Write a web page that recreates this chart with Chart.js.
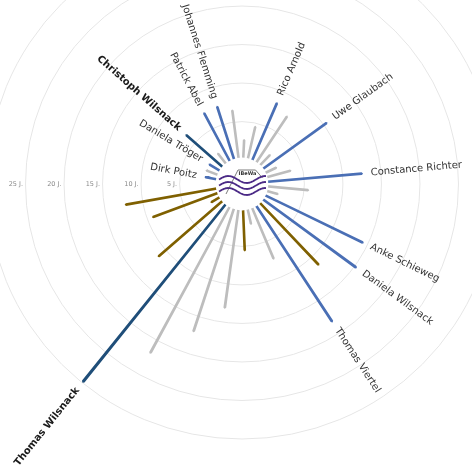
<!DOCTYPE html>
<html lang="de">
<head>
<meta charset="utf-8">
<title>IBeWa – Betriebszugehörigkeit</title>
<script src="https://cdn.jsdelivr.net/npm/chart.js@4.4.1/dist/chart.umd.min.js"></script>
<style>
  html, body { margin: 0; padding: 0; background: #fff; overflow: hidden; width: 472px; height: 476px; }
  /* Diagramm ist größer als das Fenster: Mitte liegt bei (242,184) */
  #wrap { position: absolute; left: -13px; top: -126px; width: 510px; height: 620px; }
</style>
</head>
<body>
<div id="wrap"><canvas id="chart"></canvas></div>
<script>
// Betriebszugehörigkeit in Jahren, im Uhrzeigersinn ab 12 Uhr
const names = [
  '', '', 'Rico Arnold', '', '', 'Uwe Glaubach', '', '', 'Constance Richter', '', '',
  'Anke Schieweg', 'Daniela Wilsnack', '', 'Thomas Viertel', '', '', '', '', '', '',
  'Thomas Wilsnack', '', '', '', '', '', 'Dirk Poitz', '', 'Daniela Tröger',
  'Christoph Wilsnack', '', 'Patrick Abel', 'Johannes Flemming', ''
];
const years = [
  2.6, 4.5, 8.3, 7.4, 2.1, 10.4, 1.8, 3.4, 12.5, 5.5, 1.7,
  14.3, 15.2, 11.3, 18.2, 7.4, 2.2, 5.5, 13.1, 17.0, 21.8,
  29.8, 11.2, 1.5, 9.2, 12.2, 0, 1.7, 1.8, 1.8,
  6.5, 1.9, 7.3, 7.4, 6.5
];
// B = Team, D = Geschäftsführung, O = Azubis/Extern, G = ehemalige
const groups = [
  'G', 'G', 'B', 'G', 'G', 'B', 'G', 'G', 'B', 'G', 'G',
  'B', 'B', 'O', 'B', 'G', 'G', 'O', 'G', 'G', 'G',
  'D', 'O', 'O', 'O', 'O', 'G', 'B', 'G', 'B',
  'D', 'G', 'B', 'B', 'G'
];
const tickValues = [0, 5, 10, 15, 20, 25, 30];
const tickSuffix = ' J.';
const boldNames = ['Thomas Wilsnack', 'Christoph Wilsnack'];

const COLORS = { B: '#4a6fb5', D: '#1f4e79', O: '#7f6000', G: '#bdbdbd' };
const SLOT = 360 / years.length;
const SPOKE = 0.15;

// jede Speiche = sehr schmaler Bogen, danach eine unsichtbare Lücke
const values = [], angles = [], colors = [], widths = [];
years.forEach((y, i) => {
  values.push(y, 0);
  angles.push(SPOKE, SLOT - SPOKE);
  colors.push(COLORS[groups[i]], 'rgba(0,0,0,0)');
  widths.push(2.5, 0);
});

function drawLogo(ctx, cx, cy) {
  // Haus-Umriss
  ctx.strokeStyle = '#6b6b6b';
  ctx.lineWidth = 0.9;
  ctx.beginPath();
  ctx.moveTo(cx - 16, cy + 10);
  ctx.lineTo(cx - 4, cy - 14);
  ctx.lineTo(cx + 13.5, cy - 14);
  ctx.lineTo(cx + 20.5, cy - 6);
  ctx.stroke();
  ctx.fillStyle = '#333';
  ctx.font = 'bold 5px "DejaVu Sans"';
  ctx.textAlign = 'center';
  ctx.textBaseline = 'middle';
  ctx.fillText('IBeWa', cx + 5.5, cy - 10.5);
  // Wellen
  ctx.strokeStyle = '#4b2a86';
  ctx.lineWidth = 1.8;
  for (let k = 0; k < 3; k++) {
    const y0 = cy - 4.5 + k * 6;
    ctx.beginPath();
    for (let x = 0; x <= 47; x++) {
      const y = y0 - 3.5 * Math.sin(2 * Math.PI * x / 37);
      if (x === 0) ctx.moveTo(cx - 23 + x, y);
      else ctx.lineTo(cx - 23 + x, y);
    }
    ctx.stroke();
  }
}

const spokeLabels = {
  id: 'spokeLabels',
  afterDatasetsDraw(chart) {
    const ctx = chart.ctx;
    const scale = chart.scales.r;
    const cx = scale.xCenter, cy = scale.yCenter;
    ctx.save();

    // Mitte freistellen + Logo
    ctx.fillStyle = '#fff';
    ctx.beginPath();
    ctx.arc(cx, cy, scale.getDistanceFromCenterForValue(0) + 2.5, 0, Math.PI * 2);
    ctx.fill();
    drawLogo(ctx, cx, cy);

    // Jahres-Beschriftung links waagerecht
    ctx.font = '6.5px "DejaVu Sans"';
    ctx.fillStyle = '#8a8a8a';
    ctx.textAlign = 'right';
    ctx.textBaseline = 'middle';
    tickValues.forEach(v => {
      if (v <= 0) return;
      ctx.fillText(v + tickSuffix, cx - scale.getDistanceFromCenterForValue(v) - 2.5, cy);
    });

    // Namen am Ende der Speichen
    const arcs = chart.getDatasetMeta(0).data;
    names.forEach((name, i) => {
      if (!name) return;
      const arc = arcs[i * 2];
      const a = (arc.startAngle + arc.endAngle) / 2;
      const r = arc.outerRadius + 9;
      const flip = Math.cos(a) < 0;
      const bold = boldNames.includes(name);
      ctx.save();
      ctx.translate(cx + Math.cos(a) * r, cy + Math.sin(a) * r);
      ctx.rotate(flip ? a + Math.PI : a);
      ctx.textAlign = flip ? 'right' : 'left';
      ctx.textBaseline = 'middle';
      ctx.font = (bold ? 'bold ' : '') + '10px "DejaVu Sans"';
      ctx.fillStyle = bold ? '#1a1a1a' : '#333';
      ctx.fillText(name, 0, 0);
      ctx.restore();
    });

    ctx.restore();
  }
};

new Chart(document.getElementById('chart'), {
  type: 'polarArea',
  data: {
    labels: values.map((_, i) => String(i)),
    datasets: [{
      data: values,
      angle: angles,
      backgroundColor: colors,
      borderColor: colors,
      borderWidth: widths,
    }],
  },
  options: {
    responsive: true,
    maintainAspectRatio: false,
    animation: false,
    events: [],
    layout: { padding: 0 },
    plugins: {
      legend: { display: false },
      tooltip: { enabled: false },
    },
    scales: {
      r: {
        min: -3.1,
        max: 30,
        startAngle: 2.7,
        afterBuildTicks: (scale) => {
          scale.ticks = tickValues.map(v => ({ value: v }));
        },
        ticks: { display: false },
        grid: {
          color: (c) => (c.tick && c.tick.value > 0 ? '#e6e6e6' : 'rgba(0,0,0,0)'),
          lineWidth: 1,
        },
        angleLines: { display: false },
        pointLabels: { display: false },
      },
    },
  },
  plugins: [spokeLabels],
});
</script>
</body>
</html>
